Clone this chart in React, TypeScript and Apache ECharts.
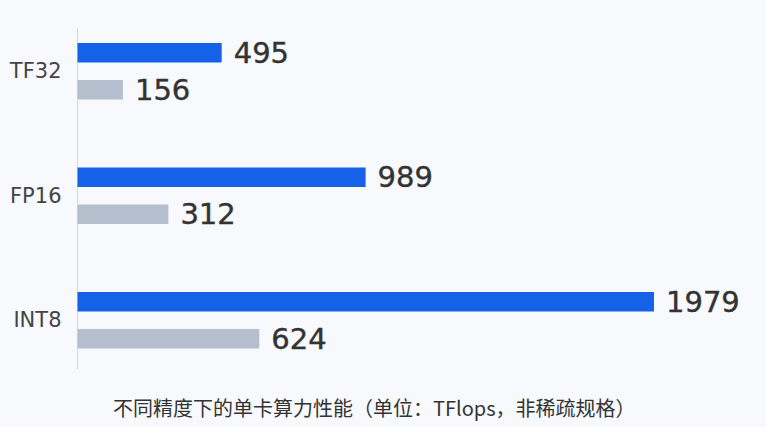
import { useEffect, useRef } from 'react'
import * as echarts from 'echarts'

// 精度类别与两组算力数值（TFlops）
const categories = ['TF32', 'FP16', 'INT8']
const primaryValues = [495, 989, 1979]
const secondaryValues = [156, 312, 624]
const caption = '不同精度下的单卡算力性能（单位：TFlops，非稀疏规格）'

const BLUE = '#1562e9'
const GRAY = '#b5bfcd'
const BG = '#f7f9fc'
const FONT = '"DejaVu Sans", "Noto Sans", sans-serif'

function App() {
  const chartRef = useRef<HTMLDivElement>(null)

  useEffect(() => {
    if (!chartRef.current) return
    const chart = echarts.init(chartRef.current, undefined, { renderer: 'svg' })

    // 数值标签略加描边，模拟中等字重
    const valueLabel = {
      show: true,
      position: 'right' as const,
      distance: 12,
      fontSize: 29,
      color: '#333',
      textBorderColor: '#333',
      textBorderWidth: 0.4,
      fontFamily: FONT,
    }

    const option: echarts.EChartsOption = {
      animation: false,
      backgroundColor: BG,
      grid: {
        left: 77.5,
        right: 18.5,
        top: 9,
        height: 373.5,
      },
      xAxis: {
        type: 'value',
        min: 0,
        max: 2300,
        show: false,
      },
      yAxis: {
        type: 'category',
        data: categories,
        inverse: true,
        axisLine: { show: false },
        axisTick: { show: false },
        axisLabel: {
          margin: 16,
          fontSize: 21,
          color: '#444',
          fontFamily: FONT,
        },
      },
      graphic: [
        {
          type: 'line',
          shape: { x1: 77.5, y1: 28, x2: 77.5, y2: 369 },
          style: { stroke: '#d3d8df', lineWidth: 1 },
        },
        {
          type: 'text',
          x: 113,
          y: 407,
          style: {
            text: caption,
            fontSize: 20,
            fill: '#333',
            fontFamily: '"Noto Sans CJK SC", sans-serif',
            align: 'left',
            verticalAlign: 'middle',
          },
        },
      ],
      series: [
        {
          type: 'bar',
          data: primaryValues,
          barWidth: 19.5,
          barGap: '90%',
          itemStyle: { color: BLUE },
          label: valueLabel,
        },
        {
          type: 'bar',
          data: secondaryValues,
          barWidth: 19.5,
          itemStyle: { color: GRAY },
          label: valueLabel,
        },
      ],
    }

    chart.setOption(option)
    return () => {
      chart.dispose()
    }
  }, [])

  return (
    <div
      ref={chartRef}
      style={{ position: 'fixed', left: 0, top: 0, width: 766, height: 427 }}
    />
  )
}

export default App
